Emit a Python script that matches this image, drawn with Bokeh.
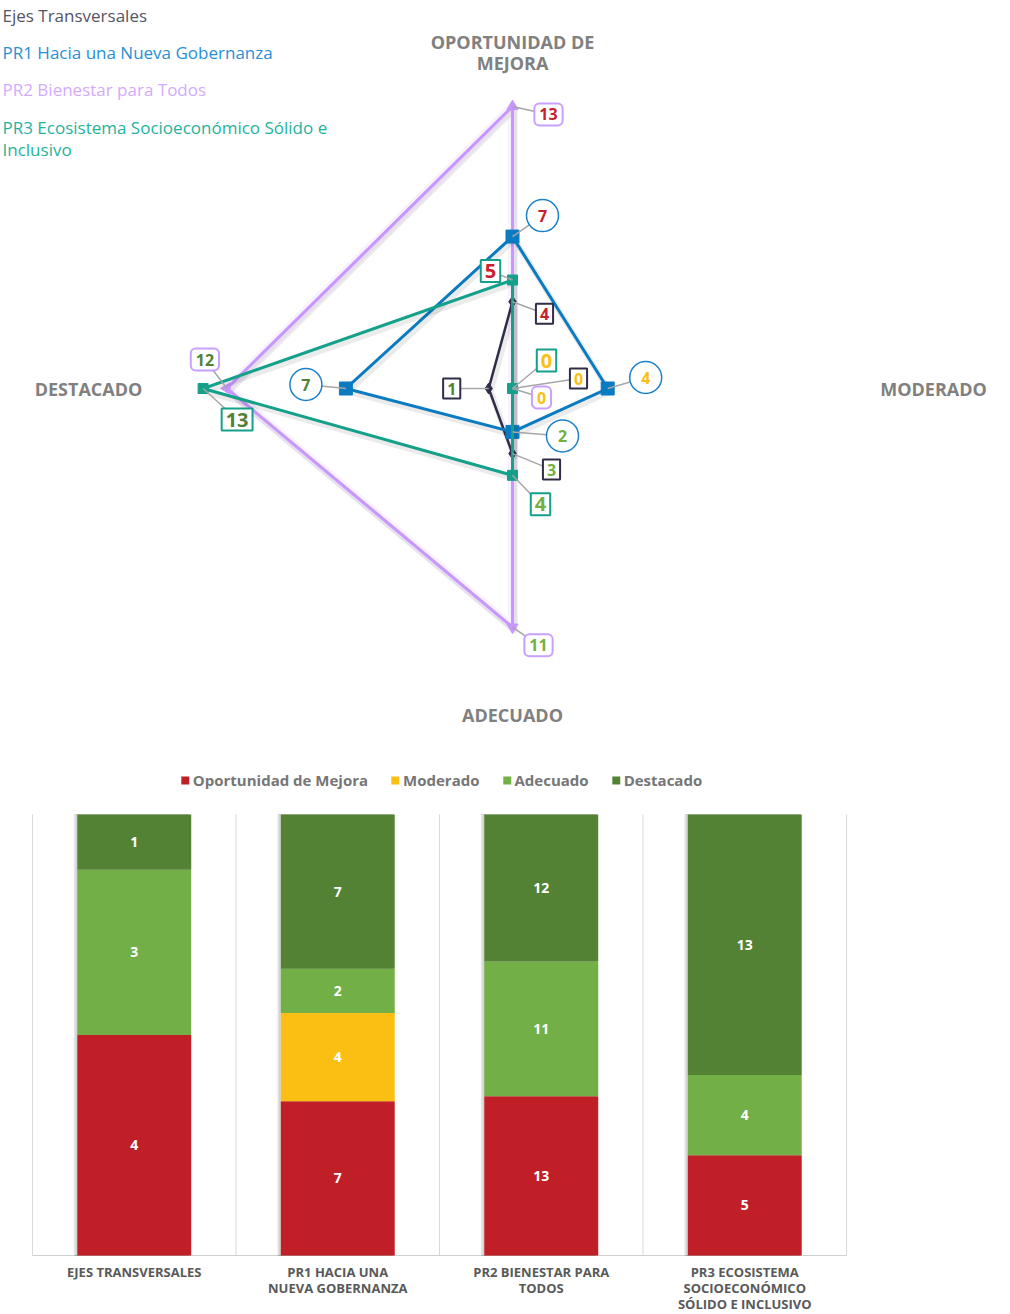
import numpy as np
from bokeh.plotting import figure
from bokeh.models import Range1d, Label, ColumnDataSource
from bokeh.layouts import column
from bokeh.embed import file_html
from bokeh.resources import INLINE
from bokeh.core.properties import value

# ---------------- data ----------------
axis_titles = ["OPORTUNIDAD DE\nMEJORA", "MODERADO", "ADECUADO", "DESTACADO"]
levels = ["Oportunidad de Mejora", "Moderado", "Adecuado", "Destacado"]
series_names = ["Ejes Transversales", "PR1 Hacia una Nueva Gobernanza",
                "PR2 Bienestar para Todos",
                "PR3 Ecosistema Socioeconómico Sólido e\nInclusivo"]
# values in order: Oportunidad de Mejora, Moderado, Adecuado, Destacado
ejes = [4, 0, 3, 1]
pr1 = [7, 4, 2, 7]
pr2 = [13, 0, 11, 12]
pr3 = [5, 0, 4, 13]
bar_categories = ["EJES TRANSVERSALES", "PR1 HACIA UNA\nNUEVA GOBERNANZA",
                  "PR2 BIENESTAR PARA\nTODOS",
                  "PR3 ECOSISTEMA\nSOCIOECONÓMICO\nSÓLIDO E INCLUSIVO"]

# ---------------- styles ----------------
FONT = "Open Sans"
level_colors = ["#c8202e", "#fbbf14", "#72b043", "#548235"]
bar_colors = ["#c01f27", "#fbbf13", "#72af46", "#548235"]
line_colors = ["#2e2e48", "#0b7bc1", "#c896ff", "#14a08a"]
legend_text_colors = ["#555566", "#2a8fd6", "#d3aaff", "#1fb39c"]
SX, SY = 23.8, 21.7          # px per unit (horizontal / vertical)
CX, CY = 512, 388            # page position of radar centre
OX, OY = 0, 0                # page position of the layout's top-left corner
W1, H1 = 1010, 753

def P(px, py):
    return (px - CX) / SX, (CY - py) / SY

radar = figure(width=W1, height=H1, output_backend="svg", toolbar_location=None,
               x_range=Range1d((OX - CX) / SX, (OX + W1 - CX) / SX),
               y_range=Range1d((CY - OY - H1) / SY, (CY - OY) / SY),
               min_border=0, outline_line_color=None)
radar.axis.visible = False
radar.grid.visible = False

all_series = [ejes, pr1, pr2, pr3]
dirs = [(0, 1), (1, 0), (0, -1), (-1, 0)]

def verts(vals):
    xs = [d[0] * v for d, v in zip(dirs, vals)]
    ys = [d[1] * v for d, v in zip(dirs, vals)]
    return xs, ys

# draw order: PR2, Ejes, PR1, PR3
order = [2, 0, 1, 3]
for i in order:
    xs, ys = verts(all_series[i])
    cx, cy = xs + xs[:1], ys + ys[:1]
    # soft shadow
    radar.line([x + 2 / SX for x in cx], [y - 3 / SY for y in cy], line_color="#000000",
               line_alpha=0.08, line_width=6, line_join="round")
    if i == 2:
        radar.line(cx, cy, line_color=line_colors[i], line_alpha=0.13, line_width=9,
                   line_join="round")
    radar.line(cx, cy, line_color=line_colors[i], line_width=3 if i != 0 else 2.5,
               line_join="miter")
    if i == 0:
        radar.scatter(xs, ys, marker="diamond", size=11, color=line_colors[i])
    elif i == 1:
        radar.scatter(xs, ys, marker="square", size=13, color=line_colors[i])
    elif i == 2:
        radar.scatter(xs, ys, marker="triangle", size=11, color=line_colors[i],
                      angle=[0, -np.pi / 2, np.pi, np.pi / 2])
    else:
        radar.scatter(xs, ys, marker="square", size=10, color=line_colors[i])

# data labels (offsets in px from the vertex)
offsets = [
    [(32, 12), (66, -10), (39, 16), (-37, 0)],      # Ejes
    [(30, -21), (38, -11), (50, 4), (-40, -4)],     # PR1
    [(36, 8), (29, 9), (26, 18), (-22, -29)],       # PR2
    [(-22, -9), (34, -28), (28, 29), (34, 31)],     # PR3
]
label_pos = []
for i, vals in enumerate(all_series):
    xs, ys = verts(vals)
    pts = []
    for k in range(4):
        dx, dy = offsets[i][k]
        lx, ly = xs[k] + dx / SX, ys[k] - dy / SY
        pts.append((lx, ly))
        radar.segment(xs[k], ys[k], lx, ly, line_color="#a6a6a6", line_width=1.5)
    label_pos.append(pts)

# PR1 circles
c_x = [p[0] for p in label_pos[1]]
c_y = [p[1] for p in label_pos[1]]
radar.scatter(c_x, c_y, marker="circle", size=32, fill_color="white",
              line_color="#1a80c8", line_width=1.5)
radar.text(c_x, c_y, text=[str(v) for v in pr1], text_align="center",
           text_baseline="middle", text_font=value(FONT), text_font_style="bold",
           text_font_size="16px", text_color=level_colors)

box_style = {
    0: dict(border_line_color="#2e2e48", border_radius=0, text_font_size="16px", pad=4),
    2: dict(border_line_color="#c8a0ff", border_radius=5, text_font_size="16px", pad=5),
    3: dict(border_line_color="#14a08a", border_radius=0, text_font_size="20px", pad=4),
}
for i in [0, 2, 3]:
    for k in range(4):
        lx, ly = label_pos[i][k]
        st = box_style[i]
        radar.add_layout(Label(x=lx, y=ly, text=str(all_series[i][k]),
                               text_align="center", text_baseline="middle",
                               text_font=FONT, text_font_style="bold",
                               text_font_size=st["text_font_size"],
                               text_color=level_colors[k],
                               background_fill_color="white",
                               border_line_color=st["border_line_color"],
                               border_line_width=2, border_radius=st["border_radius"],
                               padding=st["pad"]))

# axis titles
title_pos = [P(512, 52), P(933, 388), P(512, 714), P(88, 388)]
radar.text([t[0] for t in title_pos], [t[1] for t in title_pos], text=axis_titles,
           text_align="center", text_baseline="middle", text_font=value(FONT),
           text_font_style="bold", text_font_size="18px", text_color="#808080",
           text_line_height=0.87)

# series legend
leg_y = [15, 52, 89, 115]
for i, name in enumerate(series_names):
    lx, ly = P(2, leg_y[i])
    radar.text([lx], [ly], text=[name], text_align="left",
               text_baseline="middle" if i < 3 else "top",
               text_font=value(FONT), text_font_size="17px",
               text_color=legend_text_colors[i], text_line_height=0.96)

# ---------------- stacked 100% bar chart ----------------
W2, H2 = 882, 561
BX0, BW = 32, 203.5     # page x of first category edge, px per category
BY0, BH = 1255, 441     # page y of baseline, px for 100%
PY0 = OY + H1           # page y where this figure starts

bars = figure(width=W2, height=H2, output_backend="svg", toolbar_location=None,
              x_range=Range1d((OX - BX0) / BW, (OX + W2 - BX0) / BW),
              y_range=Range1d((BY0 - PY0 - H2) / BH, (BY0 - PY0) / BH),
              min_border=0, outline_line_color=None)
bars.axis.visible = False
bars.grid.visible = False

n = len(bar_categories)
xc = [i + 0.5 for i in range(n)]
totals = [sum(s) for s in all_series]
src = ColumnDataSource(dict(x=xc, **{lv: [all_series[c][k] / totals[c] for c in range(n)]
                                     for k, lv in enumerate(levels)}))

# separators and baseline
bars.segment(x0=list(range(n + 1)), y0=[0] * (n + 1), x1=list(range(n + 1)),
             y1=[1] * (n + 1), line_color="#d9d9d9", line_width=1)
bars.segment(x0=[0], y0=[0], x1=[n], y1=[0], line_color="#d0d0d0", line_width=1.2)

# bar shadow
bars.vbar(x=[x - 3 / BW for x in xc], width=0.56, bottom=0, top=1, color="#000000",
          alpha=0.07)
bars.vbar(x=[x - 1.5 / BW for x in xc], width=0.56, bottom=0, top=1, color="#000000",
          alpha=0.08)
bars.vbar_stack(levels, x="x", width=0.56, color=bar_colors, source=src,
                legend_label=levels, line_color=None)

lx, ly, lt = [], [], []
for c in range(n):
    cum = 0.0
    for k in range(4):
        v = all_series[c][k]
        f = v / totals[c]
        if v > 0:
            lx.append(xc[c]); ly.append(cum + f / 2); lt.append(str(v))
        cum += f
bars.text(lx, ly, text=lt, text_align="center", text_baseline="middle",
          text_font=value(FONT), text_font_style="bold", text_font_size="14px",
          text_color="white")

bars.text(xc, [(BY0 - 1262) / BH] * n, text=bar_categories, text_align="center",
          text_baseline="top", text_font=value(FONT), text_font_style="bold",
          text_font_size="13px", text_color="#595959", text_line_height=0.9)

lg = bars.legend[0]
lg.location = "top_center"
lg.orientation = "horizontal"
lg.margin = 17
lg.padding = 0
lg.spacing = 22
lg.glyph_width = 10
lg.glyph_height = 10
lg.label_standoff = 3
lg.label_text_font = FONT
lg.label_text_font_style = "bold"
lg.label_text_font_size = "15px"
lg.label_text_color = "#767676"
lg.border_line_color = None
lg.background_fill_alpha = 0

layout = column(radar, bars, spacing=0)
open("out.html", "w").write(file_html(layout, INLINE))
